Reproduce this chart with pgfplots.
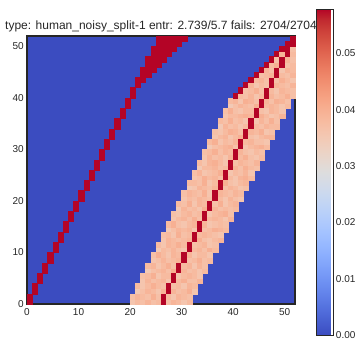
\documentclass[border=0pt]{standalone}
\usepackage{fontspec}
\setmainfont{Liberation Sans}
\usepackage{pgfplots}
\usepackage{pgfplotstable}
\pgfplotsset{compat=1.18}
\definecolor{cwlow}{RGB}{59,76,192}
\definecolor{edge}{RGB}{38,38,38}

% rows 0-39: band starts at column L; v6 is the dark red cell
\pgfplotstableread{
r L v0 v1 v2 v3 v4 v5 v6 v7 v8 v9 v10 v11
0 20 0.036 0.038 0.037 0.039 0.037 0.038 0.0579 0.037 0.039 0.038 0.036 0.038
1 20 0.037 0.039 0.038 0.037 0.040 0.037 0.0579 0.038 0.036 0.039 0.038 0.037
2 21 0.035 0.037 0.039 0.038 0.036 0.039 0.0579 0.039 0.037 0.038 0.040 0.036
3 21 0.038 0.036 0.038 0.040 0.038 0.037 0.0579 0.037 0.038 0.036 0.039 0.038
4 22 0.036 0.039 0.037 0.038 0.039 0.036 0.0579 0.038 0.040 0.037 0.037 0.039
5 22 0.037 0.038 0.040 0.036 0.038 0.038 0.0579 0.036 0.038 0.039 0.038 0.036
6 23 0.035 0.037 0.038 0.039 0.037 0.040 0.0579 0.039 0.037 0.038 0.036 0.038
7 23 0.038 0.039 0.036 0.038 0.040 0.037 0.0579 0.038 0.039 0.036 0.039 0.037
8 24 0.036 0.037 0.039 0.037 0.038 0.039 0.0579 0.037 0.038 0.040 0.037 0.038
9 24 0.037 0.040 0.038 0.036 0.039 0.038 0.0579 0.039 0.036 0.038 0.038 0.036
10 25 0.035 0.038 0.037 0.039 0.037 0.036 0.0579 0.038 0.039 0.037 0.040 0.038
11 25 0.038 0.036 0.039 0.038 0.040 0.038 0.0579 0.037 0.038 0.039 0.036 0.037
12 26 0.036 0.039 0.038 0.037 0.038 0.039 0.0579 0.040 0.037 0.036 0.038 0.039
13 26 0.037 0.038 0.036 0.040 0.037 0.038 0.0579 0.038 0.039 0.038 0.037 0.036
14 27 0.035 0.037 0.039 0.038 0.039 0.036 0.0579 0.037 0.038 0.040 0.039 0.038
15 27 0.038 0.040 0.037 0.036 0.038 0.039 0.0579 0.039 0.036 0.037 0.038 0.037
16 28 0.036 0.038 0.039 0.037 0.040 0.037 0.0579 0.038 0.039 0.038 0.036 0.039
17 28 0.037 0.036 0.038 0.039 0.037 0.038 0.0579 0.036 0.038 0.039 0.040 0.037
18 29 0.035 0.039 0.037 0.038 0.036 0.040 0.0579 0.039 0.037 0.038 0.037 0.038
19 29 0.038 0.037 0.040 0.036 0.039 0.038 0.0579 0.037 0.040 0.036 0.038 0.039
20 30 0.036 0.038 0.037 0.039 0.038 0.037 0.0579 0.038 0.036 0.039 0.037 0.036
21 30 0.037 0.039 0.038 0.037 0.040 0.036 0.0579 0.039 0.038 0.037 0.039 0.038
22 31 0.035 0.036 0.039 0.038 0.037 0.039 0.0579 0.037 0.039 0.038 0.036 0.037
23 31 0.038 0.038 0.037 0.040 0.036 0.038 0.0579 0.040 0.037 0.036 0.038 0.039
24 32 0.036 0.037 0.040 0.038 0.039 0.037 0.0579 0.038 0.036 0.039 0.040 0.038
25 32 0.037 0.039 0.036 0.037 0.038 0.040 0.0579 0.036 0.038 0.037 0.039 0.036
26 33 0.035 0.038 0.038 0.039 0.037 0.038 0.0579 0.039 0.037 0.040 0.038 0.037
27 33 0.038 0.036 0.039 0.040 0.038 0.036 0.0579 0.037 0.039 0.038 0.037 0.039
28 34 0.036 0.039 0.037 0.038 0.036 0.039 0.0579 0.038 0.040 0.037 0.036 0.038
29 34 0.037 0.038 0.040 0.037 0.039 0.038 0.0579 0.039 0.037 0.036 0.038 0.037
30 35 0.035 0.037 0.038 0.039 0.040 0.037 0.0579 0.036 0.038 0.039 0.040 0.038
31 35 0.038 0.040 0.036 0.038 0.037 0.039 0.0579 0.038 0.039 0.037 0.037 0.036
32 36 0.036 0.038 0.039 0.036 0.038 0.040 0.0579 0.037 0.036 0.038 0.039 0.039
33 36 0.037 0.036 0.038 0.040 0.039 0.037 0.0579 0.039 0.038 0.040 0.036 0.037
34 37 0.035 0.039 0.037 0.038 0.036 0.038 0.0579 0.038 0.037 0.039 0.038 0.038
35 37 0.038 0.037 0.040 0.037 0.038 0.036 0.0579 0.036 0.039 0.037 0.040 0.037
36 38 0.036 0.038 0.038 0.039 0.040 0.039 0.0579 0.040 0.038 0.036 0.037 0.039
37 38 0.037 0.040 0.037 0.036 0.038 0.038 0.0579 0.037 0.036 0.039 0.038 0.036
38 39 0.035 0.037 0.039 0.038 0.037 0.040 0.0579 0.038 0.039 0.038 0.036 0.038
39 39 0.038 0.039 0.036 0.040 0.039 0.037 0.0579 0.039 0.037 0.040 0.039 0.037
}\band

% rows 40-51: column, row, value
\pgfplotstableread{
c r v
40 40 0.0579
41 40 0.038
42 40 0.037
43 40 0.039
44 40 0.036
45 40 0.038
46 40 0.0579
47 40 0.039
48 40 0.037
49 40 0.038
50 40 0.040
51 40 0.037
41 41 0.0579
42 41 0.037
43 41 0.038
44 41 0.040
45 41 0.037
46 41 0.0579
47 41 0.038
48 41 0.036
49 41 0.039
50 41 0.038
51 41 0.037
42 42 0.0579
43 42 0.039
44 42 0.036
45 42 0.038
46 42 0.037
47 42 0.0579
48 42 0.039
49 42 0.038
50 42 0.037
51 42 0.039
43 43 0.0579
44 43 0.038
45 43 0.039
46 43 0.037
47 43 0.0579
48 43 0.037
49 43 0.040
50 43 0.038
51 43 0.036
44 44 0.0579
45 44 0.037
46 44 0.038
47 44 0.039
48 44 0.0579
49 44 0.038
50 44 0.037
51 44 0.039
45 45 0.0579
46 45 0.039
47 45 0.037
48 45 0.0579
49 45 0.036
50 45 0.039
51 45 0.038
46 46 0.0579
47 46 0.038
48 46 0.040
49 46 0.0579
50 46 0.037
51 46 0.038
47 47 0.0579
48 47 0.037
49 47 0.0579
50 47 0.039
51 47 0.037
48 48 0.0579
49 48 0.039
50 48 0.0579
51 48 0.038
49 49 0.0579
50 49 0.0579
51 49 0.037
50 50 0.0579
51 50 0.0579
51 51 0.0579
}\upper

% left red line and top wedge
\pgfplotstableread{
c r v
0 0 0.0579
0 1 0.0579
1 2 0.0579
1 3 0.0579
2 4 0.0579
2 5 0.0579
3 6 0.0579
3 7 0.0579
4 8 0.0579
4 9 0.0579
5 10 0.0579
5 11 0.0579
6 12 0.0579
6 13 0.0579
7 14 0.0579
7 15 0.0579
8 16 0.0579
8 17 0.0579
9 18 0.0579
9 19 0.0579
10 20 0.0579
10 21 0.0579
11 22 0.0579
11 23 0.0579
12 24 0.0579
12 25 0.0579
13 26 0.0579
13 27 0.0579
14 28 0.0579
14 29 0.0579
15 30 0.0579
15 31 0.0579
16 32 0.0579
16 33 0.0579
17 34 0.0579
17 35 0.0579
18 36 0.0579
18 37 0.0579
19 38 0.0579
19 39 0.0579
20 40 0.0579
20 41 0.0579
21 42 0.0579
21 43 0.0579
22 43 0.0579
22 44 0.0579
23 44 0.0579
22 45 0.0579
23 45 0.0579
24 45 0.0579
23 46 0.0579
24 46 0.0579
25 46 0.0579
23 47 0.0579
24 47 0.0579
25 47 0.0579
26 47 0.0579
24 48 0.0579
25 48 0.0579
26 48 0.0579
27 48 0.0579
24 49 0.0579
25 49 0.0579
26 49 0.0579
27 49 0.0579
28 49 0.0579
25 50 0.0579
26 50 0.0579
27 50 0.0579
28 50 0.0579
29 50 0.0579
25 51 0.0579
26 51 0.0579
27 51 0.0579
28 51 0.0579
29 51 0.0579
30 51 0.0579
}\redline

\pgfplotsset{
  cell/.style={scatter, only marks, mark=square*, mark size=2.577pt,
    point meta=explicit,
    scatter/use mapped color={draw=mapped color, fill=mapped color},
    mark options={line width=0.3pt}},
}

\begin{document}
\begin{tikzpicture}
\node[anchor=base, font=\fontsize{12}{14}\selectfont, text=edge] at (134pt,274.7pt)
  {type: human\_noisy\_split-1 entr: 2.739/5.7 fails: 2704/2704};
\begin{axis}[
  at={(0,0)}, anchor=south west,
  scale only axis, width=268pt, height=268pt,
  xmin=0, xmax=52, ymin=0, ymax=52,
  axis background/.style={fill=cwlow},
  axis on top,
  xtick={0,10,20,30,40,50}, ytick={0,10,20,30,40,50},
  major tick length=0pt,
  /pgf/number format/assume math mode=true,
  tick label style={font=\fontsize{10}{12}\selectfont, text=edge},
  xticklabel style={inner sep=0pt, yshift=-4pt},
  yticklabel style={inner sep=0pt, xshift=-3pt},
  axis line style={draw=edge, line width=1.25pt},
  colormap={coolwarm}{rgb255=(59,76,192) rgb255=(68,90,204) rgb255=(77,104,215) rgb255=(87,117,225) rgb255=(98,130,234) rgb255=(108,142,241) rgb255=(119,154,247) rgb255=(130,165,251) rgb255=(141,176,254) rgb255=(152,185,255) rgb255=(163,194,255) rgb255=(174,201,253) rgb255=(184,208,249) rgb255=(194,213,244) rgb255=(204,217,238) rgb255=(213,219,230) rgb255=(221,221,221) rgb255=(229,216,209) rgb255=(236,211,197) rgb255=(241,204,185) rgb255=(245,196,173) rgb255=(247,187,160) rgb255=(247,177,148) rgb255=(247,166,135) rgb255=(244,154,123) rgb255=(241,141,111) rgb255=(236,127,99) rgb255=(229,112,88) rgb255=(222,96,77) rgb255=(213,80,66) rgb255=(203,62,56) rgb255=(192,40,47) rgb255=(180,4,38)},
  point meta min=0, point meta max=0.0579,
  colorbar,
  colorbar style={
    at={(parent axis.east)}, anchor=west, xshift=12.5pt, yshift=-2pt,
    scale only axis, width=17pt, height=326pt,
    ymin=0, ymax=0.0579,
    scaled y ticks=false,
    ytick={0,0.01,0.02,0.03,0.04,0.05},
    yticklabels={0.00,0.01,0.02,0.03,0.04,0.05},
    major tick length=0pt,
    yticklabel style={inner sep=0pt, xshift=2.7pt, font=\fontsize{10}{12}\selectfont, text=edge},
    axis line style={draw=edge, line width=1pt},
  },
]
\pgfplotsinvokeforeach{0,...,11}{
  \addplot[cell] table[x expr=\thisrow{L}+#1+0.5, y expr=\thisrow{r}+0.5, meta=v#1] {\band};
}
\addplot[cell] table[x expr=\thisrow{c}+0.5, y expr=\thisrow{r}+0.5, meta=v] {\upper};
\addplot[cell] table[x expr=\thisrow{c}+0.5, y expr=\thisrow{r}+0.5, meta=v] {\redline};
\end{axis}
\path (-27pt,-42pt) rectangle (331pt,304pt);
\end{tikzpicture}
\end{document}
